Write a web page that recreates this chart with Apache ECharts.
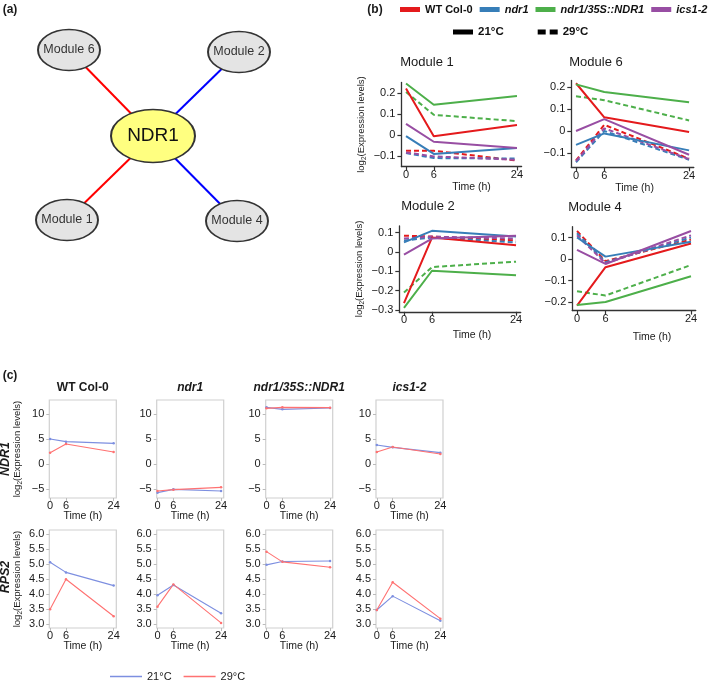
<!DOCTYPE html>
<html><head><meta charset="utf-8">
<script src="https://cdn.jsdelivr.net/npm/echarts@6/dist/echarts.min.js"></script>
<style>html,body{margin:0;padding:0;background:#fff}#c{width:709px;height:682px}</style>
</head><body><div id="c"></div><script>
// ---------- data ----------
const hours = [0, 6, 24];
const genotypes = ['WT Col-0', 'ndr1', 'ndr1/35S::NDR1', 'ics1-2'];
const temps = ['21°C', '29°C'];
// panel (b): rows = genotypes (WT, ndr1, ndr1/35S::NDR1, ics1-2), columns = hours
const module1_21C = [[0.222, -0.006, 0.048], [-0.005, -0.090, -0.062], [0.245, 0.144, 0.186], [0.053, -0.032, -0.062]];
const module1_29C = [[-0.075, -0.075, -0.122], [-0.086, -0.110, -0.112], [0.205, 0.096, 0.066], [-0.083, -0.102, -0.118]];
const module6_21C = [[0.217, 0.062, -0.005], [-0.063, -0.011, -0.088], [0.212, 0.177, 0.131], [0.000, 0.054, -0.108]];
const module6_29C = [[-0.134, 0.028, -0.126], [-0.142, 0.000, -0.131], [0.158, 0.140, 0.048], [-0.137, 0.012, -0.128]];
const module2_21C = [[-0.265, 0.075, 0.035], [0.050, 0.110, 0.080], [-0.290, -0.097, -0.120], [-0.014, 0.070, 0.085]];
const module2_29C = [[0.085, 0.080, 0.060], [0.060, 0.075, 0.050], [-0.210, -0.078, -0.050], [0.070, 0.080, 0.070]];
const module4_21C = [[-0.217, -0.038, 0.072], [0.100, 0.011, 0.080], [-0.214, -0.200, -0.080], [0.042, -0.023, 0.130]];
const module4_29C = [[0.130, -0.010, 0.090], [0.120, -0.015, 0.100], [-0.150, -0.170, -0.028], [0.110, -0.020, 0.110]];
const module1Ticks = [-0.1, 0, 0.1, 0.2];
const module6Ticks = [-0.1, 0, 0.1, 0.2];
const module2Ticks = [-0.3, -0.2, -0.1, 0, 0.1];
const module4Ticks = [-0.2, -0.1, 0, 0.1];
// panel (c): rows = genotypes, columns = hours
const ndr1Expr_21C = [[5.00, 4.47, 4.13], [-5.73, -5.07, -5.40], [11.33, 10.93, 11.20], [3.80, 3.33, 2.27]];
const ndr1Expr_29C = [[2.27, 4.00, 2.40], [-5.40, -5.13, -4.67], [11.13, 11.33, 11.27], [2.40, 3.40, 2.00]];
const rps2Expr_21C = [[5.06, 4.72, 4.28], [3.96, 4.30, 3.36], [4.97, 5.08, 5.10], [3.47, 3.93, 3.11]];
const rps2Expr_29C = [[3.49, 4.49, 3.26], [3.58, 4.32, 3.04], [5.41, 5.07, 4.89], [3.47, 4.39, 3.18]];
const ndr1Ticks = [-5, 0, 5, 10];
const rps2Ticks = [3.0, 3.5, 4.0, 4.5, 5.0, 5.5, 6.0];
// panel (a): network
const networkNodes = ['Module 6', 'Module 2', 'NDR1', 'Module 1', 'Module 4'];
const networkLinks = [['NDR1', 'Module 6', 'positive'], ['NDR1', 'Module 2', 'negative'], ['NDR1', 'Module 1', 'positive'], ['NDR1', 'Module 4', 'negative']];

// ---------- layout / style ----------
const FONT = '"Liberation Sans", Arial, sans-serif';
const genoColors = ['#e41a1c', '#377eb8', '#4daf4a', '#984ea3'];
const tempColors = ['#7d8fe0', '#ff7272'];
const nodeLayout = {
  'Module 6': [69, 50], 'Module 2': [239, 52], 'NDR1': [153, 136], 'Module 1': [67, 220], 'Module 4': [237, 221]
};
const grids = [], xAxes = [], yAxes = [], series = [], graphics = [];
function txt(text, x, y, font, opts) {
  graphics.push(Object.assign({
    type: 'text', x: x, y: y, silent: true,
    style: { text: text, font: font, fill: '#1a1a1a', align: 'center', verticalAlign: 'middle', textAlign: 'center', textVerticalAlign: 'middle' }
  }, opts || {}));
}
const LOG2 = 'log{s|2}(Expression levels)';
const log2Rich = { s: { fontSize: 6.5, fontFamily: FONT, color: '#1a1a1a', padding: [5, 0, 0, 0] } };

// panel (a)
const gA = grids.length;
grids.push({ left: 0, top: 0, width: 300, height: 300, show: false, outerBoundsMode: 'none' });
xAxes.push({ gridIndex: gA, type: 'value', min: 0, max: 300, show: false });
yAxes.push({ gridIndex: gA, type: 'value', min: 0, max: 300, inverse: true, show: false });
const ellipse = 'path://M0,50 A50,50 0 1,1 100,50 A50,50 0 1,1 0,50 Z';
series.push({
  type: 'graph', coordinateSystem: 'cartesian2d', xAxisIndex: gA, yAxisIndex: gA, silent: true,
  symbol: ellipse, z: 5,
  data: networkNodes.map(n => ({
    name: n, value: nodeLayout[n],
    symbolSize: n === 'NDR1' ? [84, 53] : [62, 41],
    itemStyle: { color: n === 'NDR1' ? '#ffff80' : '#e4e4e4', borderColor: '#333', borderWidth: 1.6 },
    label: { show: true, position: 'inside', fontFamily: FONT, fontSize: n === 'NDR1' ? 19 : 12.5, color: n === 'NDR1' ? '#111' : '#333' }
  })),
  links: networkLinks.map(l => ({ source: l[0], target: l[1], lineStyle: { color: l[2] === 'positive' ? '#ff0000' : '#0000ff', width: 2, opacity: 1 } })),
  emphasis: { disabled: true }
});
txt('(a)', 10, 10, 'bold 12px ' + FONT);

// panel (b)
const modules = [
  { title: 'Module 1', d21: module1_21C, d29: module1_29C, ticks: module1Ticks, y: [-0.15, 0.25], g: { left: 401.4, top: 82.5, width: 120.2, height: 84 }, ylab: true, tx: 427, ty: 62, nameGap: 15, shift: 10 },
  { title: 'Module 6', d21: module6_21C, d29: module6_29C, ticks: module6Ticks, y: [-0.165, 0.23], g: { left: 571.3, top: 80.4, width: 122.5, height: 86.9 }, ylab: false, tx: 596, ty: 62, nameGap: 15, shift: 2 },
  { title: 'Module 2', d21: module2_21C, d29: module2_29C, ticks: module2Ticks, y: [-0.31, 0.135], g: { left: 399.3, top: 226, width: 121.4, height: 85.8 }, ylab: true, tx: 428, ty: 206, nameGap: 18, shift: 12 },
  { title: 'Module 4', d21: module4_21C, d29: module4_29C, ticks: module4Ticks, y: [-0.24, 0.15], g: { left: 572.25, top: 226.75, width: 123.5, height: 83.85 }, ylab: false, tx: 595, ty: 207, nameGap: 21, shift: 18 }
];
const fmtB = v => Math.abs(v) < 1e-9 ? '0' : (v < 0 ? '\u2212' : '') + Math.abs(v).toFixed(1);
modules.forEach(m => {
  const gi = grids.length;
  grids.push(Object.assign({ show: false, outerBoundsMode: 'none' }, m.g));
  xAxes.push({
    gridIndex: gi, type: 'value', min: -1, max: 25,
    axisLine: { show: true, onZero: false, lineStyle: { color: '#333', width: 1.3 } },
    axisTick: { show: true, customValues: hours, length: 4, lineStyle: { color: '#333', width: 1.2 } },
    axisLabel: { show: true, customValues: hours, fontSize: 11, fontFamily: FONT, color: '#1a1a1a', margin: 3 },
    splitLine: { show: false },
    name: 'Time (h)', nameLocation: 'middle', nameGap: m.nameGap, nameMoveOverlap: false,
    nameTextStyle: { fontSize: 10.5, fontFamily: FONT, color: '#1a1a1a', padding: [0, 0, 0, 2 * m.shift] }
  });
  yAxes.push({
    gridIndex: gi, type: 'value', min: m.y[0], max: m.y[1],
    axisLine: { show: true, onZero: false, lineStyle: { color: '#333', width: 1.3 } },
    axisTick: { show: true, customValues: m.ticks, length: 4, lineStyle: { color: '#333', width: 1.2 } },
    axisLabel: { show: true, customValues: m.ticks, fontSize: 11, fontFamily: FONT, color: '#1a1a1a', margin: 6, formatter: fmtB },
    splitLine: { show: false },
    name: m.ylab ? LOG2 : '', nameLocation: 'middle', nameGap: 34, nameRotate: 90, nameMoveOverlap: false,
    nameTextStyle: { fontSize: 9.5, fontFamily: FONT, color: '#1a1a1a', rich: log2Rich }
  });
  genotypes.forEach((gname, k) => {
    [m.d29, m.d21].forEach((arr, t) => {
      const dashed = t === 0;
      series.push({
        type: 'line', name: gname, xAxisIndex: gi, yAxisIndex: gi, silent: true,
        showSymbol: false, symbol: 'none', color: genoColors[k],
        data: hours.map((h, i) => [h, arr[k][i]]),
        lineStyle: { color: genoColors[k], width: 2, type: dashed ? [5, 3] : 'solid' },
        itemStyle: { color: genoColors[k] },
        z: dashed ? 2 : 3
      });
    });
  });
  txt(m.title, m.tx, m.ty, '13px ' + FONT);
});
txt('(b)', 375, 10, 'bold 12px ' + FONT);

// panel (c)
const colLeft = [49.3, 156.7, 265.7, 376];
const rowsC = [
  { label: 'NDR1', d21: ndr1Expr_21C, d29: ndr1Expr_29C, ticks: ndr1Ticks, y: [-6.8, 12.8], top: 400, fmt: v => (v < 0 ? '\u2212' : '') + Math.abs(v), ly: 459 },
  { label: 'RPS2', d21: rps2Expr_21C, d29: rps2Expr_29C, ticks: rps2Ticks, y: [2.87, 6.13], top: 530, fmt: v => v.toFixed(1), ly: 577 }
];
rowsC.forEach(r => {
  genotypes.forEach((gname, k) => {
    const gi = grids.length;
    grids.push({ left: colLeft[k], top: r.top, width: 67, height: 98, show: true, borderColor: '#d0d0d0', borderWidth: 1.2, backgroundColor: 'rgba(0,0,0,0)', outerBoundsMode: 'none' });
    xAxes.push({
      gridIndex: gi, type: 'value', min: -0.3, max: 25,
      axisLine: { show: false, onZero: false }, splitLine: { show: false },
      axisTick: { show: true, customValues: hours, length: 3, lineStyle: { color: '#bbb' } },
      axisLabel: { show: true, customValues: hours, fontSize: 11, fontFamily: FONT, color: '#1a1a1a', margin: 2 },
      name: 'Time (h)', nameLocation: 'middle', nameGap: 12.5, nameMoveOverlap: false,
      nameTextStyle: { fontSize: 10.5, fontFamily: FONT, color: '#1a1a1a' }
    });
    yAxes.push({
      gridIndex: gi, type: 'value', min: r.y[0], max: r.y[1],
      axisLine: { show: false, onZero: false }, splitLine: { show: false },
      axisTick: { show: true, customValues: r.ticks, length: 3, lineStyle: { color: '#bbb' } },
      axisLabel: { show: true, customValues: r.ticks, fontSize: 11, fontFamily: FONT, color: '#1a1a1a', margin: 5, formatter: r.fmt },
      name: k === 0 ? LOG2 : '', nameLocation: 'middle', nameGap: 25.5, nameRotate: 90, nameMoveOverlap: false,
      nameTextStyle: { fontSize: 9.5, fontFamily: FONT, color: '#1a1a1a', rich: log2Rich }
    });
    [r.d21, r.d29].forEach((arr, t) => {
      series.push({
        type: 'line', name: temps[t], xAxisIndex: gi, yAxisIndex: gi, silent: true,
        symbol: 'circle', symbolSize: 2.5, showSymbol: true, color: tempColors[t],
        data: hours.map((h, i) => [h, arr[k][i]]),
        lineStyle: { color: tempColors[t], width: 1.1 },
        itemStyle: { color: tempColors[t] }
      });
    });
  });
  txt(r.label, 6, r.ly, 'italic bold 12.5px ' + FONT, { rotation: Math.PI / 2 });
});
genotypes.forEach((gname, k) => {
  txt(gname, colLeft[k] + 33.5, 388, (k === 0 ? '' : 'italic ') + 'bold 12px ' + FONT);
});
txt('(c)', 10, 376, 'bold 12px ' + FONT);

const option = {
  animation: false,
  backgroundColor: '#fff',
  textStyle: { fontFamily: FONT },
  grid: grids, xAxis: xAxes, yAxis: yAxes, series: series,
  graphic: graphics,
  legend: [
    {
      left: 400, top: 4, width: 420, padding: 0, itemWidth: 20, itemHeight: 5, itemGap: 7, icon: 'rect', selectedMode: false,
      data: genotypes.map((g, k) => ({ name: g, itemStyle: { color: genoColors[k], borderWidth: 0 } })),
      formatter: n => n === 'WT Col-0' ? n : '{i|' + n + '}',
      textStyle: { fontSize: 11, fontWeight: 'bold', fontFamily: FONT, color: '#111', rich: { i: { fontSize: 11, fontWeight: 'bold', fontStyle: 'italic', fontFamily: FONT, color: '#111' } } }
    },
    {
      left: 453, top: 26, width: 300, padding: 0, itemWidth: 20, itemHeight: 5, itemGap: 34, selectedMode: false,
      data: [
        { name: '21°C', icon: 'rect', itemStyle: { color: '#000', borderColor: '#000', borderWidth: 0 }, lineStyle: { color: '#000', width: 0 } },
        { name: '29°C', icon: 'path://M0,0H8V5H0ZM12,0H20V5H12Z', itemStyle: { color: '#000', borderColor: '#000', borderWidth: 0 }, lineStyle: { color: '#000', width: 0 } }
      ],
      textStyle: { fontSize: 11.5, fontWeight: 'bold', fontFamily: FONT, color: '#111' }
    },
    {
      left: 110, top: 671, padding: 0, itemWidth: 32, itemHeight: 1.5, itemGap: 12, icon: 'rect', selectedMode: false,
      data: temps.map((t, k) => ({ name: t, itemStyle: { color: tempColors[k], borderWidth: 0 }, lineStyle: { color: tempColors[k], width: 0 } })),
      textStyle: { fontSize: 11, fontFamily: FONT, color: '#1a1a1a' }
    }
  ]
};
const chart = echarts.init(document.getElementById('c'), null, { renderer: 'canvas', width: 709, height: 682 });
chart.setOption(option);
</script></body></html>
